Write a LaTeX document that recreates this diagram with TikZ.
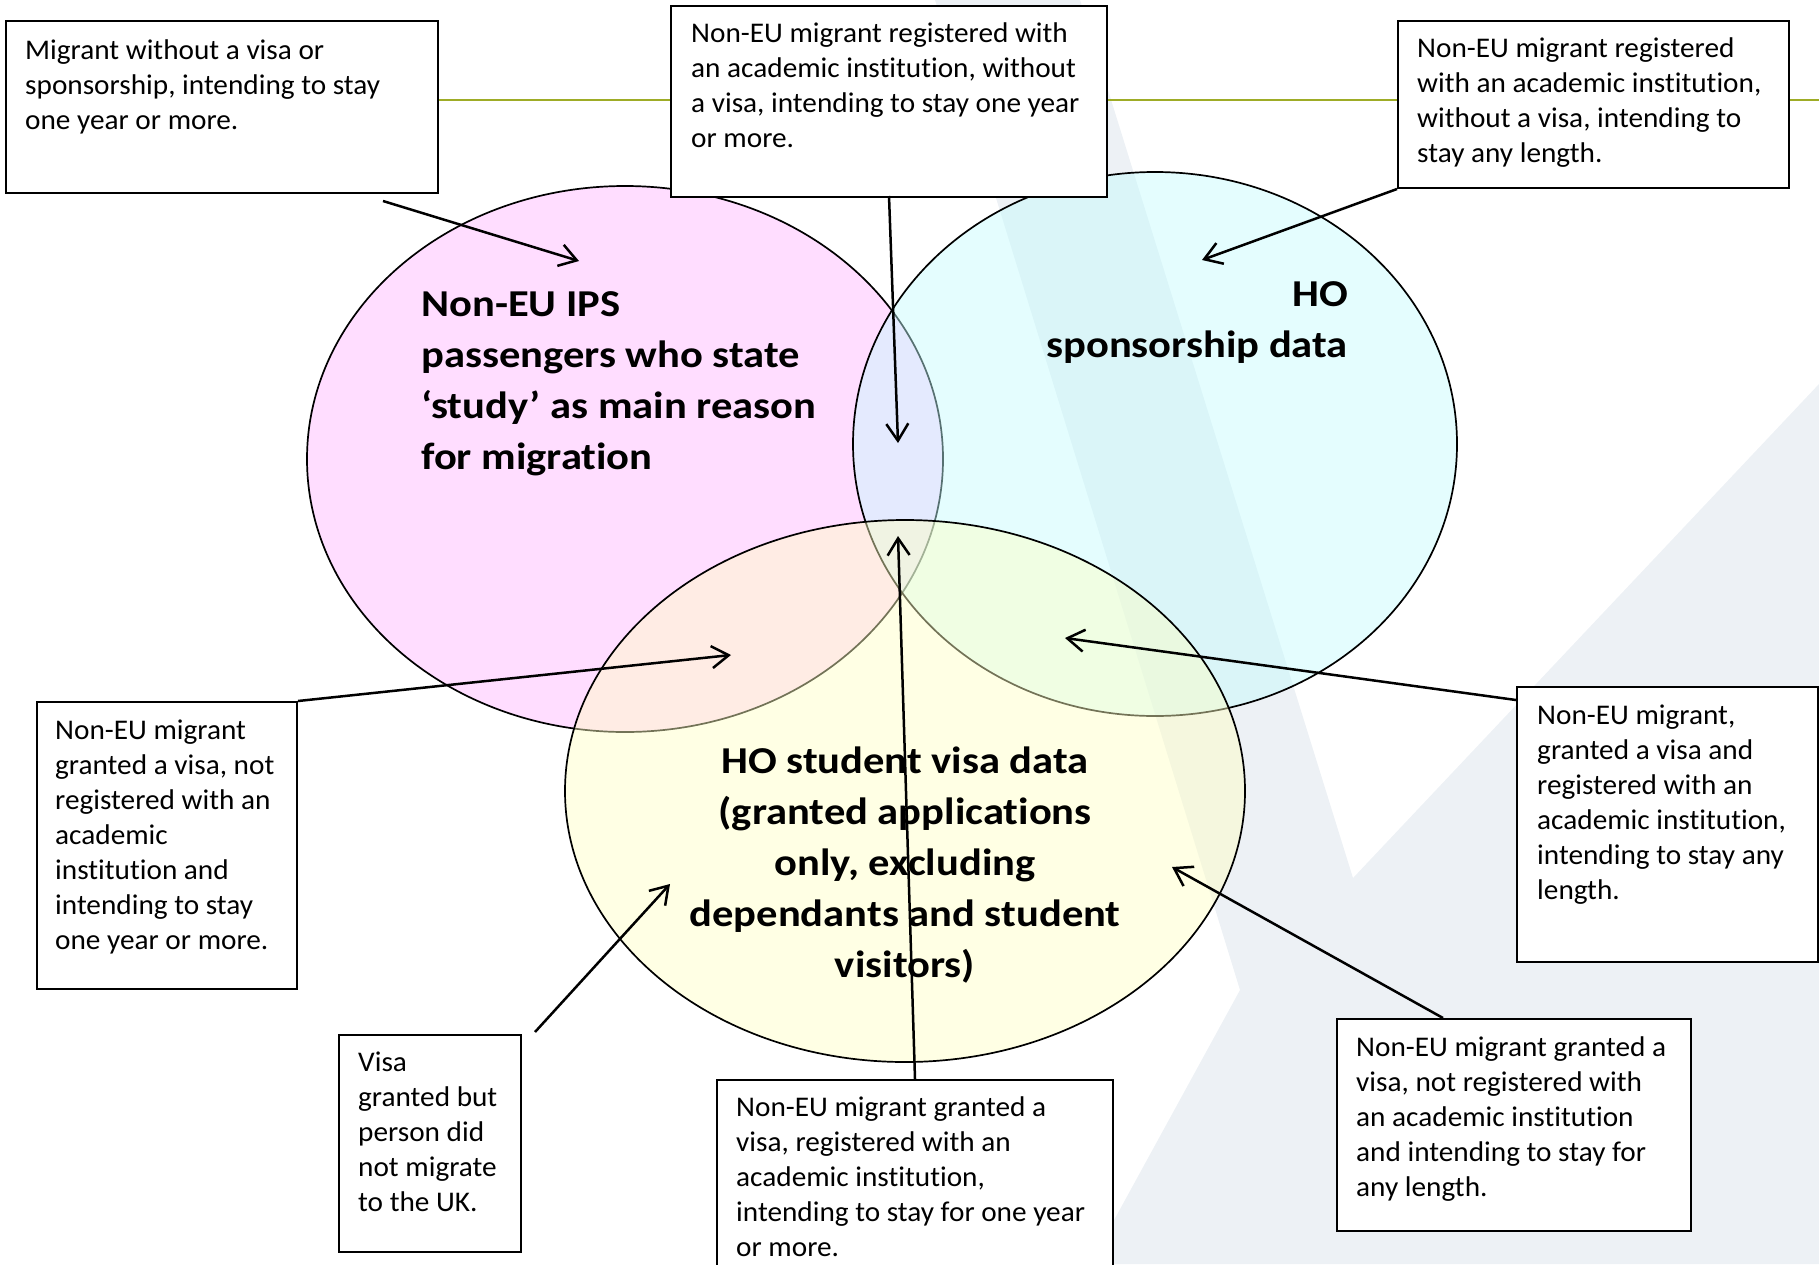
\documentclass[tikz,border=0pt]{standalone}
\usepackage{fontspec}
\setmainfont{Carlito}[Ligatures=NoCommon]
\usetikzlibrary{arrows.meta,calc}
\definecolor{pinkfill}{RGB}{255,179,255}
\definecolor{cyanfill}{RGB}{195,251,253}
\definecolor{yellowfill}{RGB}{255,255,195}
\definecolor{wmark}{RGB}{237,241,245}
\definecolor{oliveline}{RGB}{158,172,38}
\newcommand{\lns}[2]{\begin{tabular}[t]{@{}#1@{}}#2\end{tabular}}
\newcommand{\bxt}[1]{\scalebox{1.027}[1]{\lns{l}{#1}}}
\newcommand{\stt}[2]{\scalebox{1.12}[1]{\lns{#1}{#2}}}
\tikzset{
  infobox/.style={draw=black, line width=2pt, fill=white, rectangle, inner sep=0pt, anchor=north west},
  boxtext/.style={anchor=base west, inner sep=0pt, font=\fontsize{28.5}{35}\selectfont},
  settext/.style={inner sep=0pt, font=\fontsize{38}{51}\selectfont\bfseries},
  callout/.style={line width=2.5pt, -{Straight Barb[length=17pt,width=22pt]}},
  setline/.style={line width=1.7pt, draw=black, fill opacity=0.45},
}
\begin{document}
\begin{tikzpicture}[x=1pt,y=-1pt]
\useasboundingbox (0,0) rectangle (1819,1264);
% watermark
\fill[wmark] (935,0) -- (1080,0) -- (1353,878) -- (1819,384) -- (1819,1264) -- (1090,1264) -- (1240,990) -- cycle;
% green rule
\draw[oliveline, line width=2pt] (200,100) -- (1819,100);
% sets
\path[setline, fill=pinkfill] (625,459) ellipse [x radius=318, y radius=273];
\path[setline, fill=cyanfill] (1155,444) ellipse [x radius=302, y radius=272];
\path[setline, fill=yellowfill] (905,791) ellipse [x radius=340, y radius=271];
\node[settext, anchor=base west] (lpink) at (421,316) {\stt{l}{Non-EU IPS\\passengers who state\\‘study’ as main reason\\for migration}};
\node[settext, anchor=base east] (lcyan) at (1348,306) {\stt{r}{HO\\sponsorship data}};
\node[settext, anchor=base] (lyellow) at (905,773) {\stt{c}{HO student visa data\\(granted applications\\only, excluding\\dependants and student\\visitors)}};
% boxes
\node[infobox, minimum width=432, minimum height=172] (b1) at (5,20) {};
\node[boxtext] (t1) at (25,59) {\bxt{Migrant without a visa or\\sponsorship, intending to stay\\one year or more.}};
\node[infobox, minimum width=436, minimum height=191] (b2) at (670,5) {};
\node[boxtext] (t2) at (691,42) {\bxt{Non-EU migrant registered with\\an academic institution, without\\a visa, intending to stay one year\\or more.}};
\node[infobox, minimum width=391, minimum height=167] (b3) at (1397,20) {};
\node[boxtext] (t3) at (1417,57) {\bxt{Non-EU migrant registered\\with an academic institution,\\without a visa, intending to\\stay any length.}};
\node[infobox, minimum width=260, minimum height=287] (b4) at (36,701) {};
\node[boxtext] (t4) at (55,739) {\bxt{Non-EU migrant\\granted a visa, not\\registered with an\\academic\\institution and\\intending to stay\\one year or more.}};
\node[infobox, minimum width=182, minimum height=217] (b5) at (338,1034) {};
\node[boxtext] (t5) at (358,1071) {\bxt{Visa\\granted but\\person did\\not migrate\\to the UK.}};
\node[infobox, minimum width=396, minimum height=200] (b6) at (716,1079) {};
\node[boxtext] (t6) at (736,1116) {\bxt{Non-EU migrant granted a\\visa, registered with an\\academic institution,\\intending to stay for one year\\or more.}};
\node[infobox, minimum width=301, minimum height=275] (b7) at (1516,686) {};
\node[boxtext] (t7) at (1537,724) {\bxt{Non-EU migrant,\\granted a visa and\\registered with an\\academic institution,\\intending to stay any\\length.}};
\node[infobox, minimum width=354, minimum height=212] (b8) at (1336,1018) {};
\node[boxtext] (t8) at (1356,1056) {\bxt{Non-EU migrant granted a\\visa, not registered with\\an academic institution\\and intending to stay for\\any length.}};
% arrow ends
\coordinate (s1) at (383,201);  \coordinate (e1) at (579,261);
\coordinate (s2) at (889,196);  \coordinate (e2) at (898,443);
\coordinate (e3) at (1202,260);
\coordinate (e4) at (731,655);
\coordinate (s5) at (535,1032); \coordinate (e5) at (670,884);
\coordinate (s6) at (915,1079); \coordinate (e6) at (898,536);
\coordinate (s7) at (1516,700); \coordinate (e7) at (1065,638);
\coordinate (s8) at (1443,1018); \coordinate (e8) at (1172,867);
\draw[callout] (s1) -- (e1);
\draw[callout] (s2) -- (e2);
\draw[callout] (b3.south west) -- (e3);
\draw[callout] (b4.north east) -- (e4);
\draw[callout] (s5) -- (e5);
\draw[callout] (s6) -- (e6);
\draw[callout] (s7) -- (e7);
\draw[callout] (s8) -- (e8);
\end{tikzpicture}
\end{document}
